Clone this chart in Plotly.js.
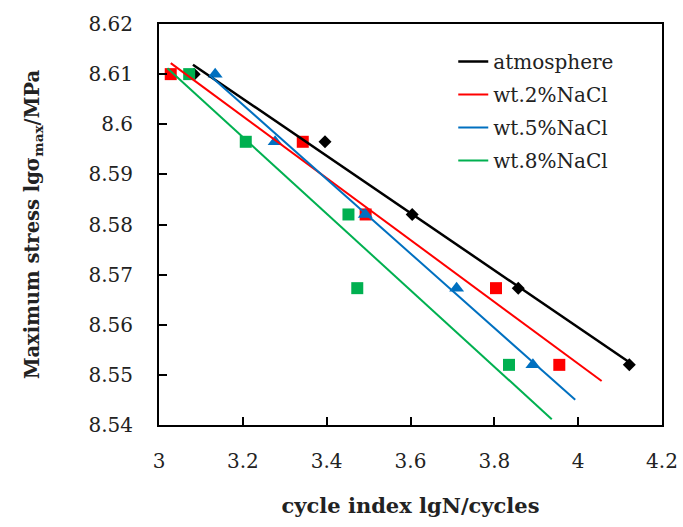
<!DOCTYPE html>
<html>
<head>
<meta charset="utf-8">
<script src="https://cdn.plot.ly/plotly-3.0.1.min.js"></script>
<style>html,body{margin:0;padding:0;background:#fff;}#chart{width:683px;height:527px;}</style>
</head>
<body>
<div id="chart"></div>
<script>
// ---- data ----
const seriesNames = ['atmosphere', 'wt.2%NaCl', 'wt.5%NaCl', 'wt.8%NaCl'];
const stressLevels = [8.61, 8.5965, 8.582, 8.5673, 8.552];
const atmosphereX = [3.084, 3.396, 3.604, 3.857, 4.122];
const nacl2X = [3.028, 3.343, 3.493, 3.804, 3.955];
const nacl5X = [3.134, 3.277, 3.492, 3.710, 3.892];
const nacl8X = [3.072, 3.207, 3.452, 3.473, 3.835];
// trend-line extents (x) for each series
const trendStartX = [3.081, 3.028, 3.12, 3.02];
const trendEndX = [4.122, 4.056, 3.993, 3.937];
// tick labels
const xTickVals = [3, 3.2, 3.4, 3.6, 3.8, 4, 4.2];
const xTickText = ['3', '3.2', '3.4', '3.6', '3.8', '4', '4.2'];
const yTickVals = [8.54, 8.55, 8.56, 8.57, 8.58, 8.59, 8.6, 8.61, 8.62];
const yTickText = ['8.54', '8.55', '8.56', '8.57', '8.58', '8.59', '8.6', '8.61', '8.62'];

// ---- styling ----
const xs = [atmosphereX, nacl2X, nacl5X, nacl8X];
const colors = ['#000000', '#FF0000', '#0070C0', '#00B050'];
const symbols = ['diamond', 'square', 'triangle-up', 'square'];
const msizes = [10, 12, 13, 12];
const lwidths = [2.5, 2, 2, 2];
const FONT = 'DejaVu Serif';

function linfit(x, y) {
  const n = x.length;
  const mx = x.reduce((a, b) => a + b, 0) / n;
  const my = y.reduce((a, b) => a + b, 0) / n;
  let sxy = 0, sxx = 0;
  for (let i = 0; i < n; i++) { sxy += (x[i] - mx) * (y[i] - my); sxx += (x[i] - mx) ** 2; }
  const b = sxy / sxx;
  return { b: b, a: my - b * mx };
}

const traces = [];
xs.forEach((x, i) => {
  traces.push({
    x: x, y: stressLevels, type: 'scatter', mode: 'markers', showlegend: false,
    marker: { symbol: symbols[i], size: msizes[i], color: colors[i], line: { width: 0 } },
    hoverinfo: 'x+y'
  });
});
xs.forEach((x, i) => {
  const f = linfit(x, stressLevels);
  const lx = [trendStartX[i], trendEndX[i]];
  traces.push({
    x: lx, y: lx.map(v => f.a + f.b * v), type: 'scatter', mode: 'lines',
    name: seriesNames[i], legendgroup: 'g' + i,
    line: { color: colors[i], width: lwidths[i] }
  });
});

const axisCommon = {
  showgrid: false, zeroline: false, showline: true, linecolor: '#000', linewidth: 2,
  mirror: true, ticks: 'inside', ticklen: 8, tickwidth: 2, tickcolor: '#000',
  tickfont: { family: FONT, size: 20, color: '#222' }
};

const layout = {
  width: 683, height: 527,
  margin: { l: 159, r: 21, t: 24, b: 102 },
  paper_bgcolor: '#fff', plot_bgcolor: '#fff',
  showlegend: true,
  legend: {
    x: 0.585, y: 0.955, xanchor: 'left', yanchor: 'top',
    font: { family: FONT, size: 20, color: '#222' },
    bgcolor: 'rgba(0,0,0,0)', traceorder: 'grouped', tracegroupgap: 4
  },
  xaxis: Object.assign({}, axisCommon, {
    range: [3, 4.2], tickvals: xTickVals, ticktext: xTickText,
    ticklabelstandoff: 17,
    title: { text: 'cycle index lgN/cycles', font: { family: FONT, size: 21, color: '#222', weight: 'bold' }, standoff: 26 }
  }),
  yaxis: Object.assign({}, axisCommon, {
    range: [8.54, 8.62], tickvals: yTickVals, ticktext: yTickText,
    ticklabelstandoff: 20,
    title: { text: 'Maximum stress lgσ<sub>max</sub>/MPa', font: { family: FONT, size: 19.5, color: '#222', weight: 'bold' }, standoff: 44 }
  })
};

Plotly.newPlot('chart', traces, layout, { staticPlot: true, displayModeBar: false });
</script>
</body>
</html>
